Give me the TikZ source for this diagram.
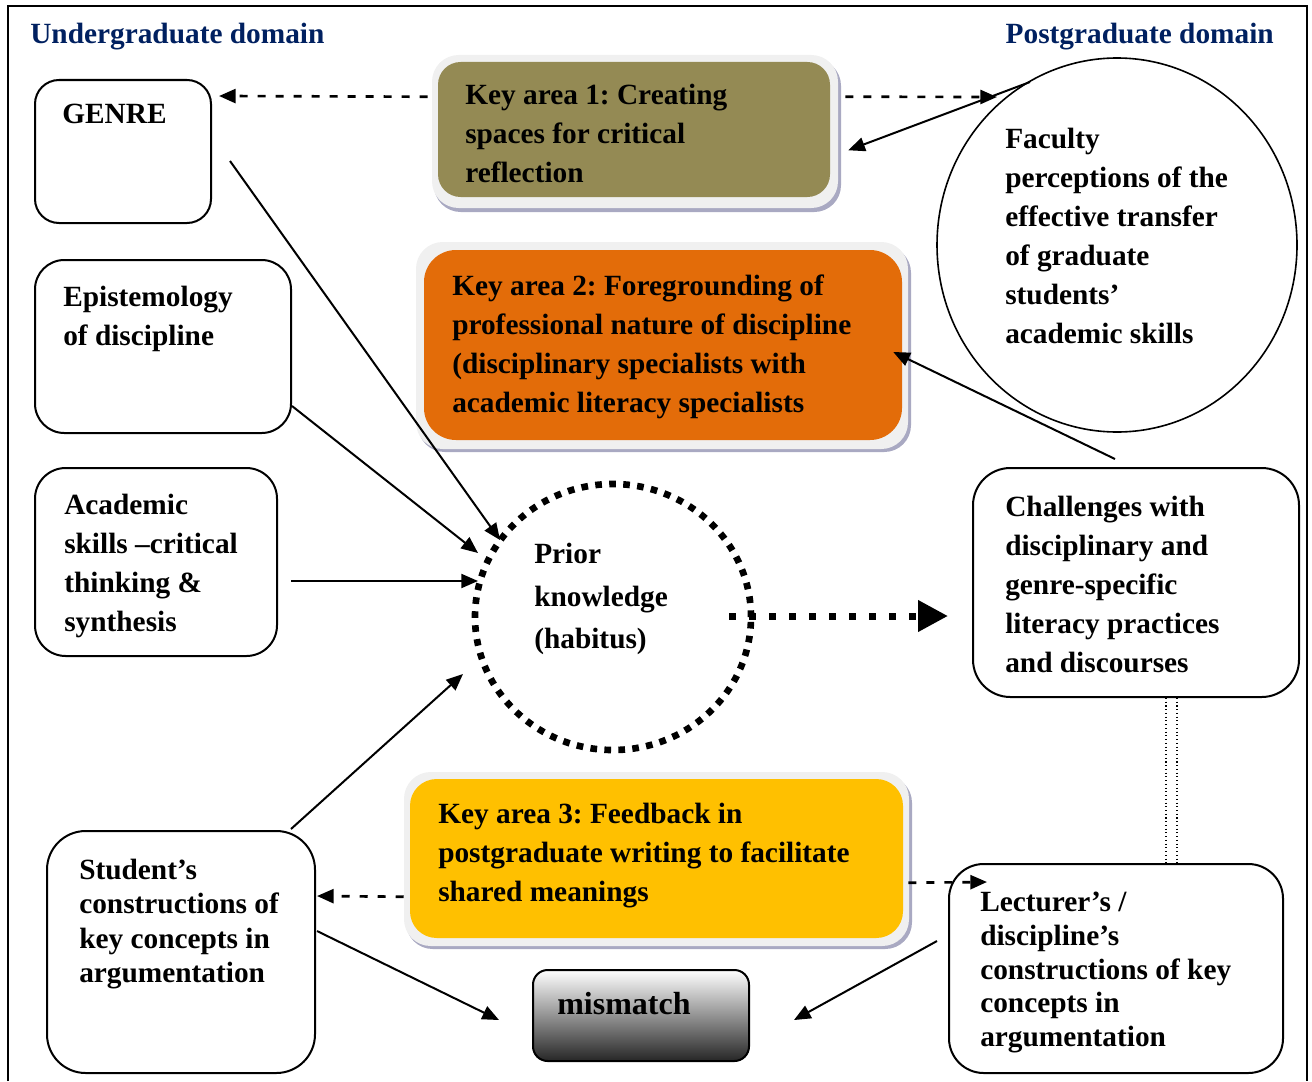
\documentclass[tikz,border=0pt]{standalone}
\usepackage{fontspec}
\setmainfont{Liberation Serif}
\usetikzlibrary{arrows.meta,shapes.geometric,fit}
\definecolor{navy}{HTML}{002060}
\definecolor{olivek}{HTML}{948A54}
\definecolor{orangek}{HTML}{E36C09}
\definecolor{goldk}{HTML}{FFC000}
\definecolor{rimc}{HTML}{F0F0F0}
\definecolor{shadowc}{HTML}{A9A9C2}
\frenchspacing
\begin{document}
\begin{tikzpicture}[x=0.75pt,y=-0.75pt,
  box/.style={draw, line width=1.5pt, inner sep=0pt},
  keyarea/.style={inner sep=0pt},
  txt/.style={font=\fontsize{22}{29.25}\selectfont\bfseries, align=left, anchor=north west, inner sep=0pt},
  dom/.style={font=\fontsize{22}{29.25}\selectfont\bfseries, text=navy, inner sep=0pt},
  arr/.style={line width=1.5pt, -{Triangle[length=12.5pt,width=10.5pt]}},
  dsh/.style={arr, line width=2pt, dash pattern=on 6pt off 7.5pt},
  fatarr/.style={line width=5.25pt, dash pattern=on 5.25pt off 9.75pt, -{Triangle[length=22.5pt,width=22.5pt]}},
  rim/.style={fill=rimc, rounded corners=20pt},
  shade/.style={fill=shadowc, rounded corners=20pt}]

\useasboundingbox (0,0) rectangle (1312,1081);

% outer frame (open at the bottom)
\draw[line width=2pt] (8,1081) -- (8,6) -- (1307,6) -- (1307,1081);

% domain headings
\node[dom, anchor=base west] (ugdom) at (30,44) {Undergraduate domain};
\node[dom, anchor=base east] (pgdom) at (1274,44) {Postgraduate domain};

% raised rims behind the three key areas
\fill[shade] (434,59) rectangle (841,212);
\fill[rim] (432,55) rectangle (838,208);
\fill[shade] (418,246) rectangle (911,452);
\fill[rim] (416,242) rectangle (908,449);
\fill[shade] (406,776) rectangle (912,949);
\fill[rim] (404,772) rectangle (909,946);

% key areas
\node[keyarea, fill=olivek, rounded corners=17pt, fit={(438,62)(830,197)}] (k1) {};
\node[keyarea, fill=orangek, rounded corners=24pt, fit={(424,250)(902,440)}] (k2) {};
\node[keyarea, fill=goldk, rounded corners=20pt, fit={(410,779)(903,938)}] (k3) {};

% undergraduate boxes
\node[box, rounded corners=18pt, fit={(35,80)(211,223)}] (genre) {};
\node[box, rounded corners=22pt, fit={(35,260)(291,433)}] (epist) {};
\node[box, rounded corners=23pt, fit={(35,468)(277,656)}] (acad) {};
\node[box, rounded corners=29pt, fit={(47,831)(315,1073)}] (student) {};

% postgraduate boxes
\node[ellipse, draw, line width=1.2pt, minimum width=270pt, minimum height=280.5pt, inner sep=0pt] (faculty) at (1117,245) {};
\node[box, rounded corners=28pt, fit={(973,468)(1299,697)}] (chall) {};
\node[box, rounded corners=26pt, fit={(949,864)(1283,1073)}] (lect) {};

% centre
\node[ellipse, draw, line width=5pt, dash pattern=on 5pt off 5.5pt, minimum width=207pt, minimum height=199.5pt, inner sep=0pt] (prior) at (613,617) {};
\node[box, rounded corners=11pt, top color=white, middle color=black!25, bottom color=black!85, fit={(533,970)(749,1061)}] (mismatch) {};

% texts
\node[txt] (genreT) at (62,104) {GENRE};
\node[txt] (k1T) at (465,84) {Key area 1: Creating\\spaces for critical\\reflection};
\node[txt] (facT) at (1005,128) {Faculty\\perceptions of the\\effective transfer\\of graduate\\students’\\academic skills};
\node[txt] (epistT) at (63,286) {Epistemology\\of discipline};
\node[txt] (k2T) at (452,275) {Key area 2: Foregrounding of\\professional nature of discipline\\(disciplinary specialists with\\academic literacy specialists};
\node[txt] (acadT) at (64,494) {Academic\\skills –critical\\thinking \&\\synthesis};
\node[txt, font=\fontsize{22}{31.9}\selectfont\bfseries] (priorT) at (534,543) {Prior\\knowledge\\(habitus)};
\node[txt] (challT) at (1005,496) {Challenges with\\disciplinary and\\genre-specific\\literacy practices\\and discourses};
\node[txt] (k3T) at (438,803) {Key area 3: Feedback in\\postgraduate writing to facilitate\\shared meanings};
\node[txt, font=\fontsize{22}{25.7}\selectfont\bfseries] (studentT) at (79,859) {Student’s\\constructions of\\key concepts in\\argumentation};
\node[txt, font=\fontsize{22}{25.3}\selectfont\bfseries] (lectT) at (980,892) {Lecturer’s /\\discipline’s\\constructions of key\\concepts in\\argumentation};
\node[txt, font=\fontsize{24}{29.25}\selectfont\bfseries] (mismT) at (557,992) {mismatch};

% connectors
\draw[dsh] ([shift={(-10,35)}]k1.north west) -- ([shift={(7,17)}]genre.north east);
\draw[dsh] ([shift={(15,35)}]k1.north east) -- ([shift={(-120,-148)}]faculty.center);
\draw[arr] ([shift={(-87,-163)}]faculty.center) -- ([shift={(18,-47)}]k1.south east);
\draw[arr] ([shift={(18,82)}]genre.north east) -- ([shift={(-113,-77)}]prior.center);
\draw[arr] ([shift={(0,-28)}]epist.south east) -- ([shift={(-135,-64)}]prior.center);
\draw[arr] ([shift={(13,19)}]acad.east) -- ([shift={(-135,-36)}]prior.center);
\draw[arr] ([shift={(-25,-1)}]student.north east) -- ([shift={(-150,57)}]prior.center);
\draw[arr] ([shift={(-21,-8)}]chall.north) -- ([shift={(-9,7)}]k2.east);
\draw[fatarr] ([shift={(-25,-1)}]prior.east) -- ([shift={(-24,-1)}]prior.east -| chall.west);
\draw[dsh] ([shift={(-6,118)}]k3.north west) -- ([shift={(1,66)}]student.north east);
\draw[dsh] ([shift={(5,104)}]k3.north east) -- ([shift={(39,19)}]lect.north west);
\draw[arr] ([shift={(1,101)}]student.north east) -- ([shift={(-33,4.5)}]mismatch.west);
\draw[arr] ([shift={(-11,78)}]lect.north west) -- ([shift={(44,4.5)}]mismatch.east);

% double dotted link between the two right-hand boxes
\draw[line width=0.8pt, dotted] ([shift={(30,0)}]chall.south) -- ([shift={(30,0)}]chall.south |- lect.north);
\draw[line width=0.8pt, dotted] ([shift={(41,0)}]chall.south) -- ([shift={(41,0)}]chall.south |- lect.north);

\end{tikzpicture}
\end{document}
